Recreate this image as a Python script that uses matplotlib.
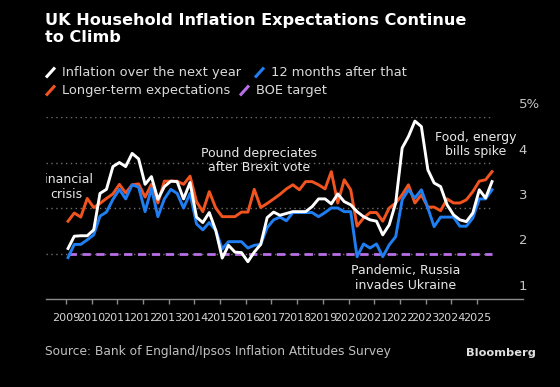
import matplotlib
matplotlib.use("Agg")
import matplotlib.pyplot as plt
import matplotlib.transforms as mtransforms
from matplotlib.lines import Line2D
import pandas as pd

# quarterly survey (Feb, May, Aug, Nov), Feb 2009 - Aug 2025, % expected
dates = pd.date_range("2009-02-01", periods=67, freq="3MS")

next_year = [2.11, 2.38, 2.39, 2.39, 2.52, 3.32, 3.41, 3.91, 4.00, 3.91,
             4.20, 4.08, 3.52, 3.69, 3.19, 3.47, 3.59, 3.58, 3.20, 3.56,
             2.80, 2.68, 2.90, 2.51, 1.90, 2.18, 2.03, 2.02, 1.82, 2.03,
             2.20, 2.79, 2.91, 2.84, 2.88, 2.92, 2.92, 2.92, 3.03, 3.20,
             3.20, 3.09, 3.31, 3.14, 3.07, 2.92, 2.81, 2.74, 2.71, 2.41,
             2.63, 3.11, 4.32, 4.57, 4.91, 4.79, 3.84, 3.55, 3.47, 3.07,
             2.85, 2.74, 2.70, 2.89, 3.40, 3.22, 3.58]

after_that = [1.91, 2.20, 2.20, 2.30, 2.41, 2.82, 2.91, 3.19, 3.41, 3.20,
              3.51, 3.46, 2.92, 3.43, 2.81, 3.20, 3.41, 3.32, 3.00, 3.32,
              2.65, 2.52, 2.68, 2.51, 2.10, 2.26, 2.26, 2.26, 2.12, 2.18,
              2.20, 2.57, 2.74, 2.80, 2.72, 2.90, 2.90, 2.90, 2.90, 2.81,
              2.90, 3.00, 3.00, 2.92, 2.92, 1.93, 2.21, 2.12, 2.21, 1.93,
              2.19, 2.37, 3.18, 3.40, 3.22, 3.40, 3.00, 2.59, 2.80, 2.80,
              2.80, 2.60, 2.60, 2.78, 3.20, 3.20, 3.40]

longer_term = [2.71, 2.89, 2.80, 3.21, 3.01, 3.10, 3.21, 3.31, 3.52, 3.33,
               3.51, 3.53, 3.24, 3.52, 3.11, 3.59, 3.59, 3.59, 3.52, 3.70,
               3.14, 2.92, 3.36, 3.00, 2.81, 2.81, 2.81, 2.91, 2.91, 3.41,
               3.01, 3.10, 3.20, 3.30, 3.42, 3.51, 3.40, 3.58, 3.58, 3.51,
               3.42, 3.80, 3.11, 3.62, 3.40, 2.60, 2.78, 2.90, 2.90, 2.71,
               3.00, 3.11, 3.29, 3.51, 3.11, 3.29, 3.02, 3.02, 2.94, 3.20,
               3.11, 3.11, 3.18, 3.36, 3.59, 3.62, 3.80]

boe_target = 2.0
years = list(range(2009, 2026))
y_levels = [1, 2, 3, 4, 5]
y_labels = ["1", "2", "3", "4", "5%"]

WHITE = "#ffffff"
BLUE = "#1f7ff2"
ORANGE = "#f2541f"
PURPLE = "#b86ee6"
GRID = "#6e6e6e"

fig = plt.figure(figsize=(5.6, 3.87), dpi=100, facecolor="black")
ax = fig.add_axes([46 / 560, 88 / 387, 477 / 560, 182 / 387])
ax.set_facecolor("black")

x0 = pd.Timestamp("2008-03-25")
ax.set_xlim(x0, pd.Timestamp("2026-10-15"))
ax.set_ylim(1, 5)

# dotted grid + BOE target
ax.hlines(y_levels[1:], x0, dates[-1], colors=GRID, linestyles=(0, (1, 2.5)), lw=1, zorder=1)
ax.plot([dates[0], dates[-1]], [boe_target, boe_target], color=PURPLE, lw=2,
        dashes=(3, 2), zorder=2)

ax.plot(dates, longer_term, color=ORANGE, lw=2.1, zorder=3)
ax.plot(dates, after_that, color=BLUE, lw=2.1, zorder=4)
ax.plot(dates, next_year, color=WHITE, lw=2.1, zorder=5)

for s in ["top", "left", "right"]:
    ax.spines[s].set_visible(False)
ax.spines["bottom"].set_color("#8c8c8c")
ax.spines["bottom"].set_linewidth(1)

ax.set_xticks([pd.Timestamp(f"{y}-01-01") for y in years])
ax.set_xticklabels([str(y) for y in years], fontsize=8, color="#d4d4d4")
ax.tick_params(axis="x", colors="#8c8c8c", length=3.5, width=1, pad=6.5, labelcolor="#d4d4d4")
ax.set_yticks([])

# y labels on the right, sitting above their grid lines
off = mtransforms.ScaledTranslation(0, 9 / 72, fig.dpi_scale_trans)
for lev, lab in zip(y_levels, y_labels):
    ax.text(0.991, lev, lab, transform=ax.get_yaxis_transform() + off,
            ha="left", va="center", fontsize=9.5, color="#c4c4c4", clip_on=False)

# annotations
ann = dict(ha="center", va="center", fontsize=9, color="#e8e8e8", linespacing=1.15, zorder=6)
ax.text(pd.Timestamp("2009-01-05"), 3.46, "Financial\ncrisis", clip_on=True, **ann)
ax.text(pd.Timestamp("2016-07-08"), 4.04, "Pound depreciates\nafter Brexit vote", **ann)
ax.text(pd.Timestamp("2024-12-10"), 4.40, "Food, energy\nbills spike", **ann)
ax.text(pd.Timestamp("2022-03-28"), 1.46, "Pandemic, Russia\ninvades Ukraine", **ann)

# title, legend, footer
W, H = 560, 387
fig.text(45 / W, 1 - 13.5 / H, "UK Household Inflation Expectations Continue\nto Climb",
         ha="left", va="top", fontsize=11.6, fontweight="bold", color="white", linespacing=1.12)

legend = [(45, 72.5, WHITE, "Inflation over the next year"),
          (254, 72.5, BLUE, "12 months after that"),
          (45, 90.5, ORANGE, "Longer-term expectations"),
          (239, 90.5, PURPLE, "BOE target")]
for px, py, col, txt in legend:
    fig.add_artist(Line2D([(px + 1) / W, (px + 10) / W], [1 - (py + 5) / H, 1 - (py - 5) / H],
                          color=col, lw=2.2, solid_capstyle="butt"))
    fig.text((px + 17) / W, 1 - py / H, txt, ha="left", va="center", fontsize=9.4, color="#dadada")

fig.text(45 / W, 1 - 352 / H, "Source: Bank of England/Ipsos Inflation Attitudes Survey",
         ha="left", va="center", fontsize=8.8, color="#c0c0c0")
fig.text(536 / W, 1 - 353 / H, "Bloomberg", ha="right", va="center", fontsize=8.2,
         fontweight="bold", color="#e0e0e0")

fig.savefig("out.png", dpi=100, facecolor="black")
